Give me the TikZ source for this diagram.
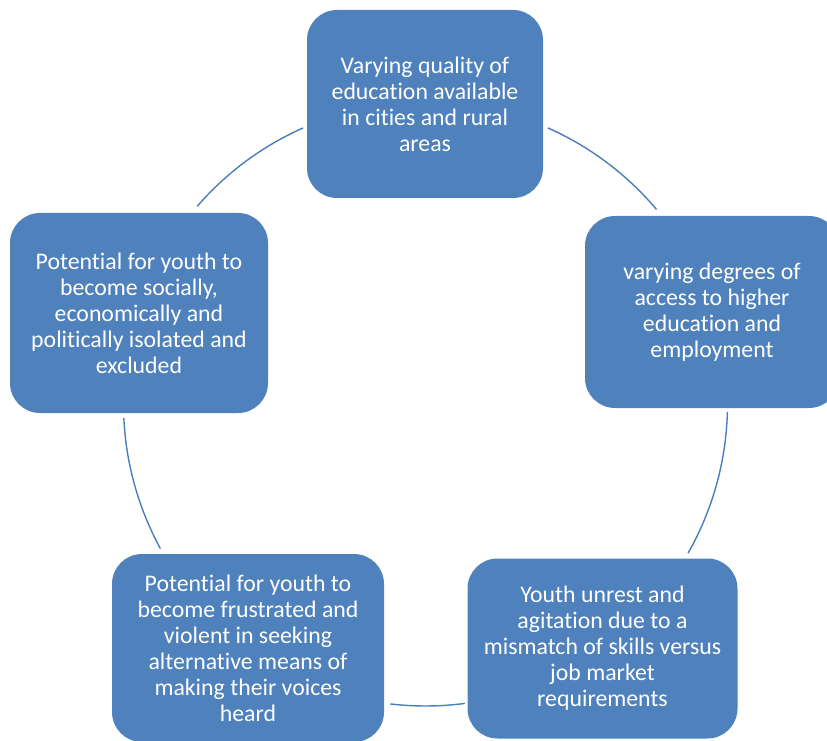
\documentclass[tikz,border=0pt]{standalone}
\usepackage{fontspec}
\setmainfont[Ligatures={NoCommon}]{Carlito}
\definecolor{boxblue}{HTML}{4F81BD}
\definecolor{arcblue}{HTML}{4A7EBB}
\begin{document}
\begin{tikzpicture}[x=1pt,y=1pt,
  cyclebox/.style={fill=boxblue, draw=none, rounded corners=30pt, text=white,
    align=center, inner sep=0pt, font=\fontsize{23.8}{26}\selectfont},
  arcline/.style={draw=arcblue, line width=1.4pt}]
\useasboundingbox (0,0) rectangle (827,740);
\clip (0,0) rectangle (827,740);
\node[cyclebox, minimum width=236, minimum height=188] (top) at (425,636)
  {Varying quality of\\education available\\in cities and rural\\areas};
\node[cyclebox, minimum width=254, minimum height=192] (right) at (712,428)
  {varying degrees of\\access to higher\\education and\\employment};
\node[cyclebox, minimum width=270, minimum height=180] (botright) at (602.5,91.5)
  {Youth unrest and\\agitation due to a\\mismatch of skills versus\\job market\\requirements};
\node[cyclebox, minimum width=272, minimum height=188] (botleft) at (248,92)
  {Potential for youth to\\become frustrated and\\violent in seeking\\alternative means of\\making their voices\\heard};
\node[cyclebox, minimum width=258, minimum height=200] (left) at (139,427)
  {Potential for youth to\\become socially,\\economically and\\politically isolated and\\excluded};
\coordinate (c) at (425.5,336);
\draw[arcline] ([shift={(66.1:302pt)}]c) arc[start angle=66.1, end angle=40.1, radius=302pt];
\draw[arcline] ([shift={(-1.5:302pt)}]c) arc[start angle=-1.5, end angle=-29.6, radius=302pt];
\draw[arcline] ([shift={(-82.5:302pt)}]c) arc[start angle=-82.5, end angle=-96.7, radius=302pt];
\draw[arcline] ([shift={(208.6:302pt)}]c) arc[start angle=208.6, end angle=182.7, radius=302pt];
\draw[arcline] ([shift={(139.1:302pt)}]c) arc[start angle=139.1, end angle=113.9, radius=302pt];
\end{tikzpicture}
\end{document}
